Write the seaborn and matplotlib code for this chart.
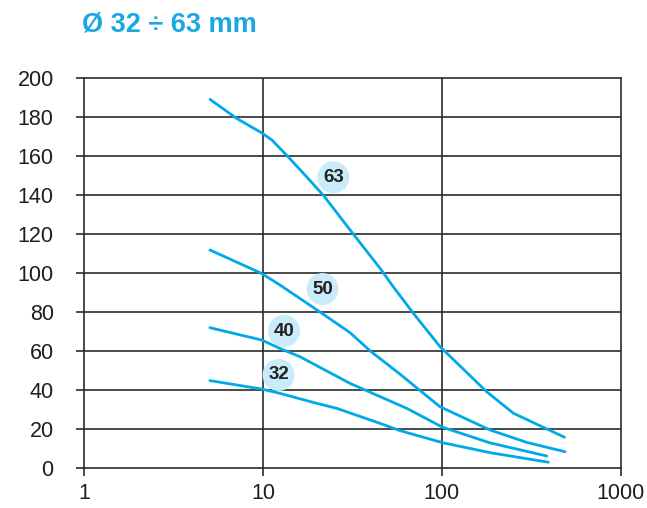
import pandas as pd
import seaborn as sns
import matplotlib.pyplot as plt
from matplotlib.ticker import FixedLocator, FixedFormatter, NullLocator

# Curves (x on log scale)
x63 = [5.05, 7.1, 9.8, 11.2, 13.8, 17.5, 21.9, 31.9, 45.1, 53.5, 69.2, 97.6, 178, 251, 485]
y63 = [188.9, 179.2, 171.8, 168.1, 159.5, 149.3, 139.4, 120, 102.4, 92.9, 79.4, 62.3, 39.2, 28.2, 15.9]

x50 = [5.04, 9.8, 12.4, 21.3, 30.6, 39.6, 58.3, 97.6, 186, 300, 488]
y50 = [111.8, 99.8, 93.9, 79.4, 69.5, 60.2, 48.2, 31.5, 19.6, 13.2, 8.5]

x40 = [5.04, 9.8, 12.4, 16.1, 30.6, 45.1, 63.6, 101, 186, 386]
y40 = [72, 65.7, 61.4, 57.1, 43.5, 36.7, 30.7, 21, 13, 6.3]

x32 = [5.04, 9.8, 12.4, 19.9, 25.8, 45.1, 58.3, 101, 186, 394]
y32 = [44.9, 40.6, 38.4, 33.3, 30.7, 23, 19.3, 13.1, 8, 3.1]

sizes = ['63', '50', '40', '32']
label_x = [24.7, 21.5, 13.1, 12.2]
label_y = [149, 91.8, 70.3, 47.8]

x_ticks = [1, 10, 100, 1000]
y_ticks = list(range(0, 201, 20))

frames = []
for name, xs, ys in zip(sizes, [x63, x50, x40, x32], [y63, y50, y40, y32]):
    frames.append(pd.DataFrame({'x': xs, 'y': ys, 'size': name}))
df = pd.concat(frames, ignore_index=True)

sns.set_style('white')
plt.rcParams['font.family'] = ['Liberation Sans', 'DejaVu Sans']

blue = '#00a9e8'
dark = '#2b2b2b'

fig = plt.figure(figsize=(6.47, 5.08), dpi=100)
ax = fig.add_axes([84.3 / 647, 1 - 468.3 / 508, (620.7 - 84.3) / 647, (468.3 - 77.7) / 508])

sns.lineplot(data=df, x='x', y='y', hue='size', palette=[blue] * 4,
             sort=False, estimator=None, linewidth=2.0, legend=False, ax=ax,
             zorder=3)

ax.set_xscale('log')
ax.set_xlim(1, 1000)
ax.set_ylim(0, 200)
ax.xaxis.set_major_locator(FixedLocator(x_ticks))
ax.xaxis.set_major_formatter(FixedFormatter([str(t) for t in x_ticks]))
ax.xaxis.set_minor_locator(NullLocator())
ax.set_yticks(y_ticks)
ax.set_xlabel('')
ax.set_ylabel('')

# grid lines
for v in [10, 100]:
    ax.axvline(v, color=dark, linewidth=1.2, zorder=1)
for v in y_ticks[1:-1]:
    ax.axhline(v, color=dark, linewidth=1.2, zorder=1)

for s in ax.spines.values():
    s.set_color(dark)
    s.set_linewidth(1.2)

ax.tick_params(axis='both', which='major', direction='out', length=6, width=1.2,
               color=dark, labelsize=15.5, labelcolor='#1e1e1e',
               bottom=True, left=True)
ax.tick_params(axis='y', pad=16)
ax.tick_params(axis='x', pad=4.5)

for name, lx, ly in zip(sizes, label_x, label_y):
    ax.text(lx, ly, name, ha='center', va='center', fontsize=13.5, fontweight='bold',
            color='#222222', zorder=5,
            bbox=dict(boxstyle='circle,pad=0.3', facecolor='#c9ebfa', edgecolor='none'))

fig.text(82 / 647, 1 - 25 / 508, 'Ø 32 ÷ 63 mm', color='#1aa7e2', fontsize=19.5,
         fontweight='bold', ha='left', va='center')

fig.savefig('out.png', dpi=100)
